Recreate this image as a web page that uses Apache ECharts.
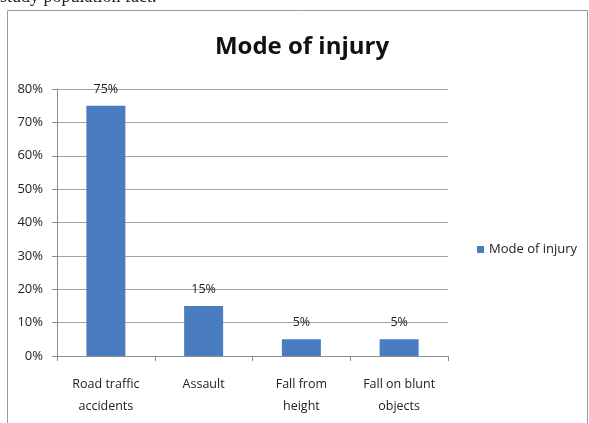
<!DOCTYPE html>
<html><head><meta charset="utf-8">
<script src="https://cdn.jsdelivr.net/npm/echarts@6/dist/echarts.min.js"></script>
<style>html,body{margin:0;padding:0;background:#fff}#c{width:589px;height:423px}</style>
</head><body><div id="c"></div>
<script>
const categories = ['Road traffic\naccidents', 'Assault', 'Fall from\nheight', 'Fall on blunt\nobjects'];
const values = [75, 15, 5, 5];
const seriesName = 'Mode of injury';
const chartTitle = 'Mode of injury';

const chart = echarts.init(document.getElementById('c'));
chart.setOption({
  animation: false,
  backgroundColor: '#fff',
  title: {
    text: chartTitle, left: 297, top: 30, textAlign: 'center',
    textStyle: {fontFamily: 'Open Sans', fontWeight: 'bold', fontSize: 24, color: '#111'}
  },
  graphic: [
    {type: 'rect', shape: {x: 7.5, y: 10.5, width: 580, height: 420}, style: {fill: 'none', stroke: '#9a9a9a', lineWidth: 1}, silent: true},
    {type: 'text', left: 0, top: -12, style: {text: 'study population fact.', font: '18px "Liberation Serif"', fill: '#222'}, silent: true}
  ],
  legend: {
    data: [seriesName], left: 472, top: 238, itemWidth: 7, itemHeight: 7, itemGap: 6,
    icon: 'rect', textStyle: {fontFamily: 'Open Sans', fontSize: 13, color: '#222'}
  },
  grid: {left: 57, top: 89, width: 391, height: 267, containLabel: false},
  xAxis: {
    type: 'category', data: categories,
    axisLine: {lineStyle: {color: '#8c8c8c'}},
    axisTick: {show: true, length: 5, lineStyle: {color: '#8c8c8c'}},
    axisLabel: {fontFamily: 'Open Sans', fontSize: 12.5, color: '#222', margin: 17, lineHeight: 22}
  },
  yAxis: {
    type: 'value', min: 0, max: 80, interval: 10,
    axisLine: {show: true, lineStyle: {color: '#8c8c8c'}},
    axisTick: {show: true, length: 5, lineStyle: {color: '#8c8c8c'}},
    splitLine: {lineStyle: {color: '#a8a0a0'}},
    axisLabel: {formatter: '{value}%', fontFamily: 'Open Sans', fontSize: 13, color: '#222', margin: 14}
  },
  series: [{
    name: seriesName, type: 'bar', data: values, barWidth: 39,
    itemStyle: {color: '#4a7cc2'},
    label: {show: true, position: 'top', formatter: '{c}%', distance: 10, fontFamily: 'Open Sans', fontSize: 12.5, color: '#222'}
  }]
});
</script></body></html>
